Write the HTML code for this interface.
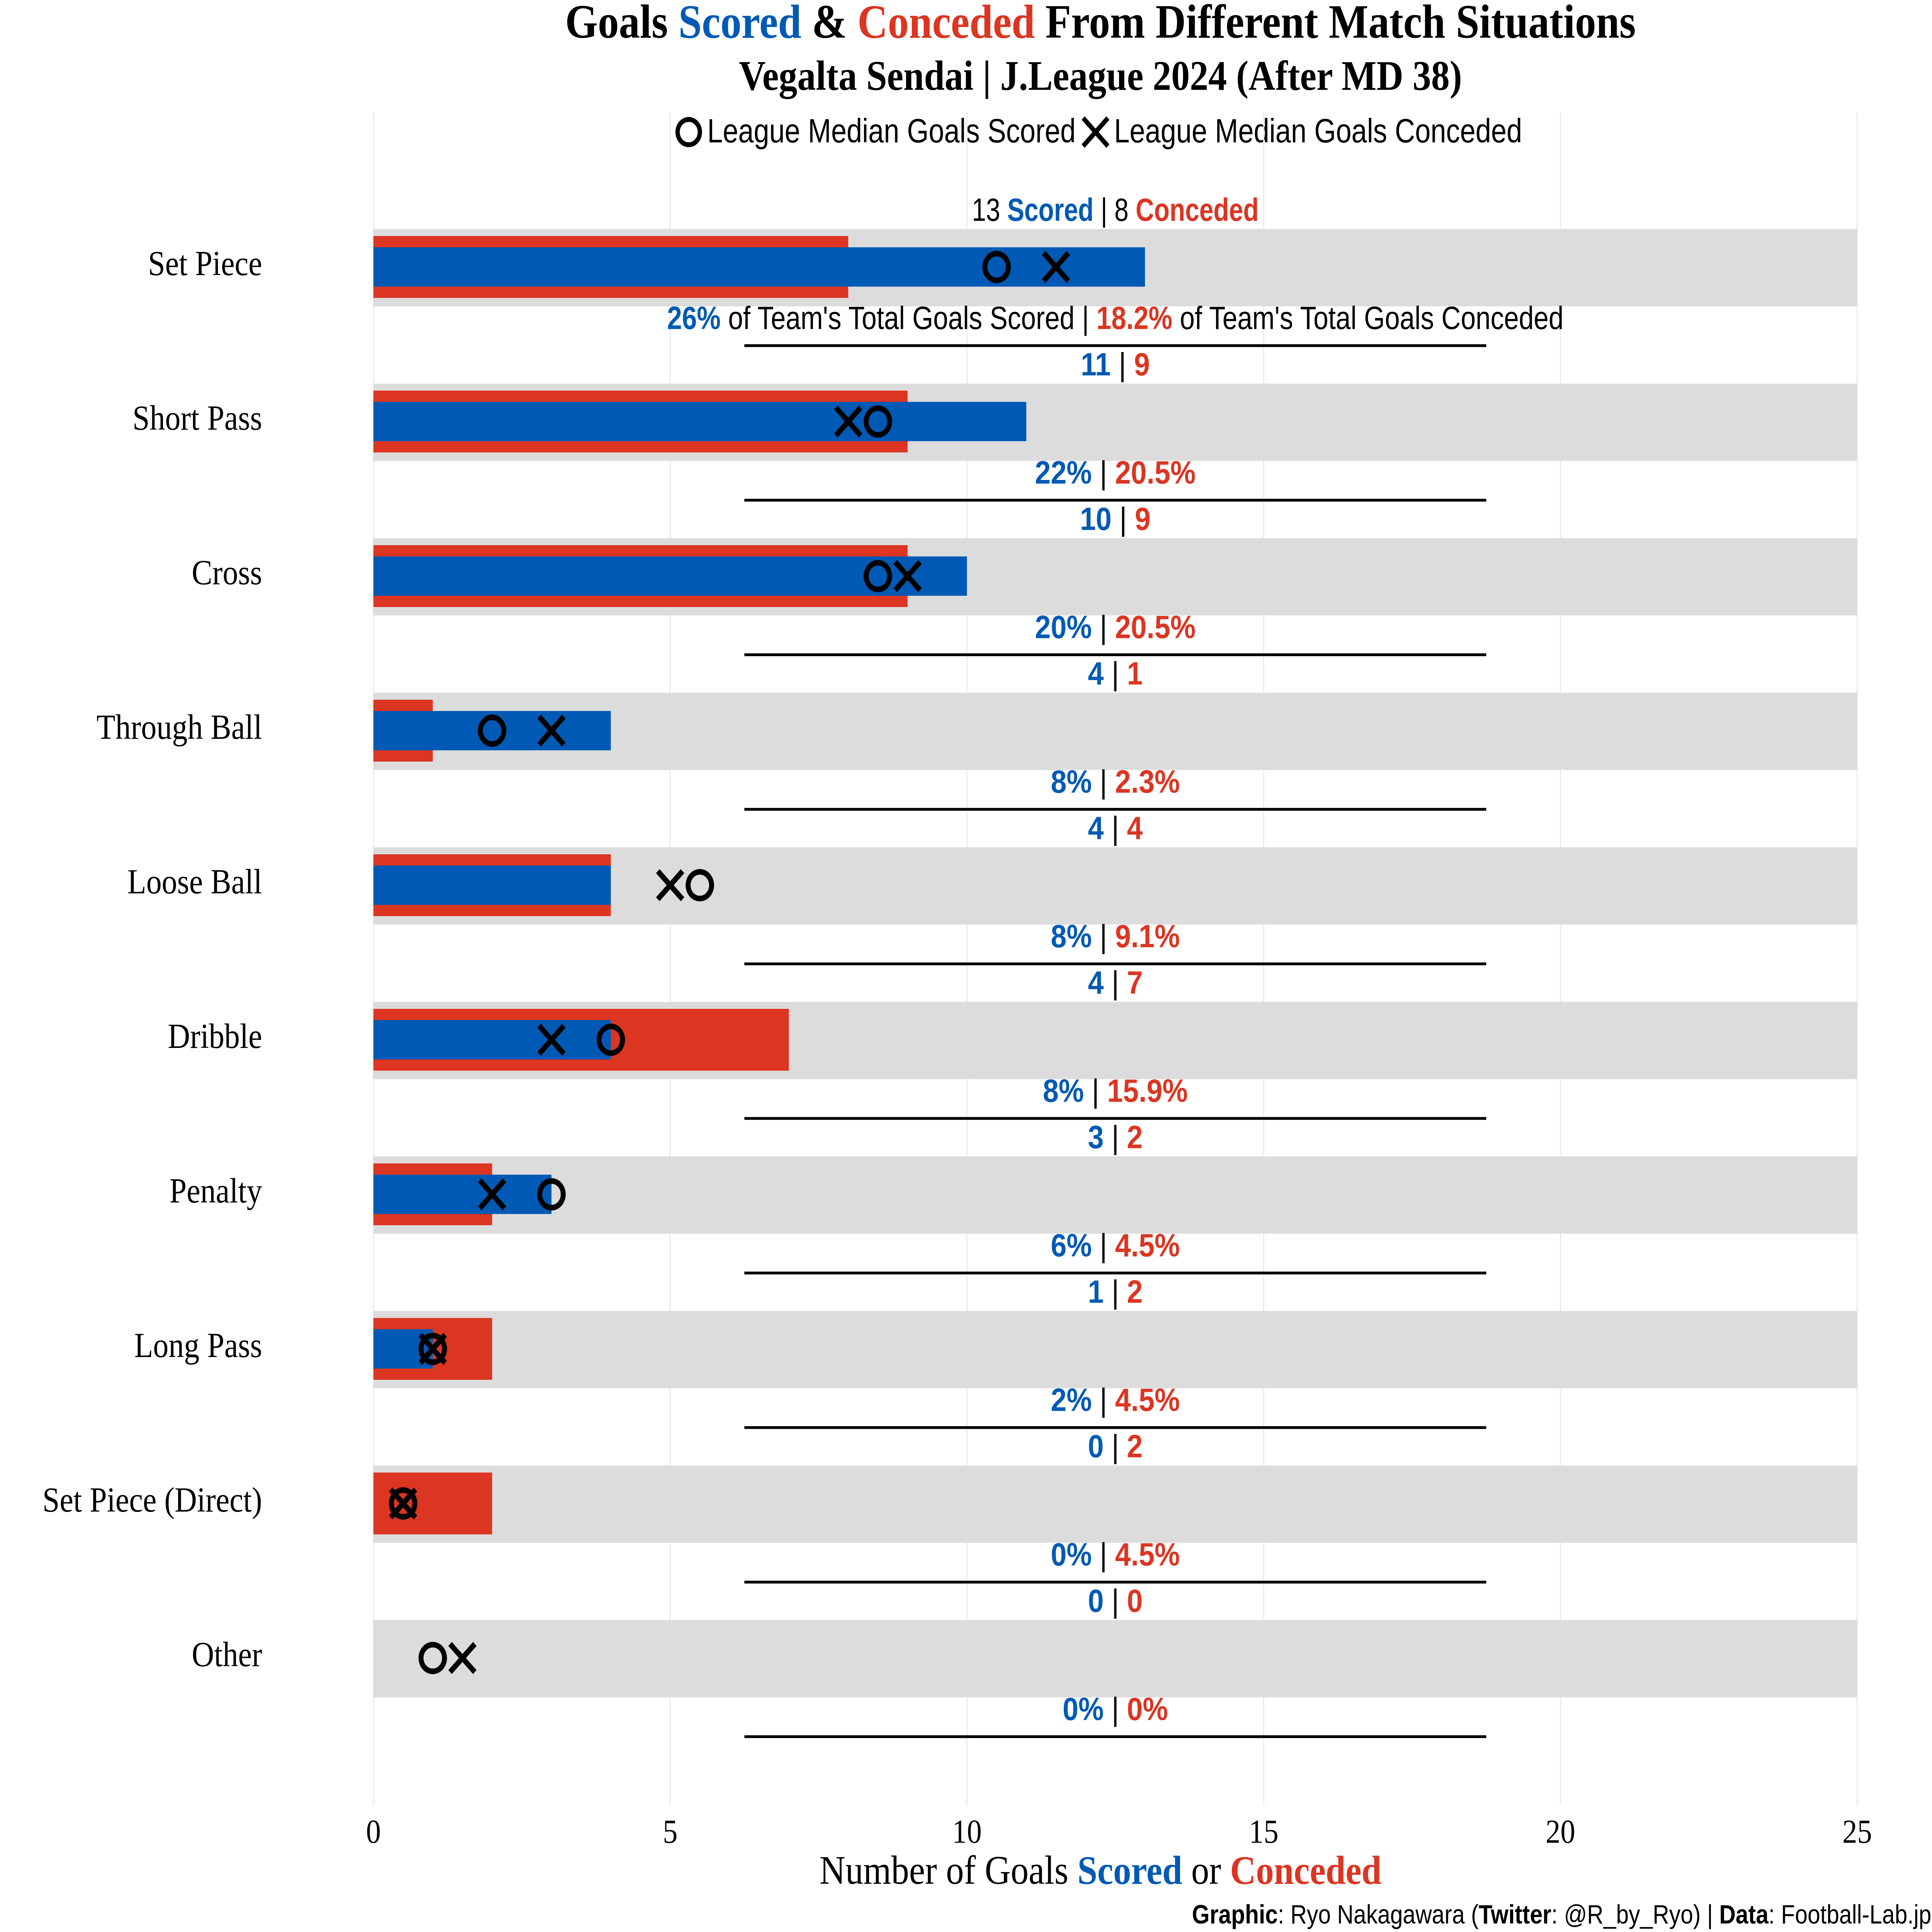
<!DOCTYPE html>
<html><head><meta charset="utf-8"><style>
html,body{margin:0;padding:0;background:#fff;overflow:hidden;width:100vw;height:100vh;}
svg{display:block;width:100vw;height:100vh;}
.serif{font-family:"Liberation Serif",serif;}
.cond{font-family:"Liberation Sans Narrow","Liberation Sans",sans-serif;}
</style></head><body>
<svg id="chart" viewBox="0 0 1562.5 1375" preserveAspectRatio="none" xmlns="http://www.w3.org/2000/svg">
<rect width="1562.5" height="1375" fill="#fff"/>
<text x="890" y="19" text-anchor="middle" dominant-baseline="middle" class="serif" font-weight="bold" font-size="34">Goals <tspan fill="#005ab5">Scored</tspan> &amp; <tspan fill="#dc3522">Conceded</tspan> From Different Match Situations</text>
<text x="890" y="57" text-anchor="middle" dominant-baseline="middle" class="serif" font-weight="bold" font-size="30">Vegalta Sendai | J.League 2024 (After MD 38)</text>
<g>
<circle cx="557" cy="94" r="9" fill="none" stroke="#000" stroke-width="3.5"/>
<text x="572" y="95" dominant-baseline="middle" class="cond" font-size="24" textLength="298" lengthAdjust="spacingAndGlyphs">League Median Goals Scored</text>
<path d="M876 84 L896 104 M896 84 L876 104" stroke="#000" stroke-width="3.5"/>
<text x="901" y="95" dominant-baseline="middle" class="cond" font-size="24" textLength="330" lengthAdjust="spacingAndGlyphs">League Median Goals Conceded</text>
</g>
<g id="grid"></g><g id="rows"></g><g id="axis"></g>
<text x="890" y="1334" text-anchor="middle" dominant-baseline="middle" class="serif" font-size="29">Number of Goals <tspan fill="#005ab5" font-weight="bold">Scored</tspan> or <tspan fill="#dc3522" font-weight="bold">Conceded</tspan></text>
<text x="1562" y="1364" text-anchor="end" dominant-baseline="middle" class="cond" font-size="19" textLength="598" lengthAdjust="spacingAndGlyphs"><tspan font-weight="bold">Graphic</tspan>: Ryo Nakagawara (<tspan font-weight="bold">Twitter</tspan>: @R_by_Ryo) | <tspan font-weight="bold">Data</tspan>: Football-Lab.jp</text>
</svg>
<script>
const categories=["Set Piece","Short Pass","Cross","Through Ball","Loose Ball","Dribble","Penalty","Long Pass","Set Piece (Direct)","Other"];
const scored=[13,11,10,4,4,4,3,1,0,0];
const conceded=[8,9,9,1,4,7,2,2,2,0];
const medianScored=[10.5,8.5,8.5,2,5.5,4,3,1,0.5,1];
const medianConceded=[11.5,8,9,3,5,3,2,1,0.5,1.5];
const pctScored=["26%","22%","20%","8%","8%","8%","6%","2%","0%","0%"];
const pctConceded=["18.2%","20.5%","20.5%","2.3%","9.1%","15.9%","4.5%","4.5%","4.5%","0%"];
const ticks=[0,5,10,15,20,25];
const NS="http://www.w3.org/2000/svg";
const BLUE="#005ab5",RED="#dc3522";
const x=v=>302+v*48;
const y=i=>190+i*110;
function mk(tag,attrs,parent){const e=document.createElementNS(NS,tag);for(const k in attrs)e.setAttribute(k,attrs[k]);parent.appendChild(e);return e;}
const grid=document.getElementById('grid'),rows=document.getElementById('rows'),axis=document.getElementById('axis');
ticks.forEach(t=>{
 const l=mk('line',{x1:x(t),x2:x(t),y1:80,y2:1285,stroke:'#ebebeb','stroke-width':1},grid);
 
 
 const tx=mk('text',{x:x(t),y:1306,'text-anchor':'middle','dominant-baseline':'middle','font-size':24,class:'serif'},axis);
 tx.textContent=t;
 
 
});
function span(parent,txt,fill,bold){const s=mk('tspan',{},parent);if(fill)s.setAttribute('fill',fill);if(bold)s.setAttribute('font-weight','bold');s.textContent=txt;return s;}
categories.forEach((c,i)=>{
 const cy=y(i);
 const g=mk('g',{},rows);
 
 
 const bg=mk('rect',{x:x(0),y:cy-27,width:x(25)-x(0),height:55,fill:'#dcdcdc'},g);
 
 
 const rb=mk('rect',{x:x(0),y:cy-22,width:x(conceded[i])-x(0),height:44,fill:RED},g);
 
 
 const bb=mk('rect',{x:x(0),y:cy-14,width:x(scored[i])-x(0),height:28,fill:BLUE},g);
 
 
 const ci=mk('circle',{cx:x(medianScored[i]),cy:cy,r:9.5,fill:'none',stroke:'#000','stroke-width':4},g);
 
 
 const mx=x(medianConceded[i]);
 const cr=mk('path',{d:`M${mx-10} ${cy-10} L${mx+10} ${cy+10} M${mx+10} ${cy-10} L${mx-10} ${cy+10}`,stroke:'#000','stroke-width':4},g);
 
 
 const lb=mk('text',{x:212,y:cy,'text-anchor':'end','dominant-baseline':'middle','font-size':25,class:'serif'},g);
 lb.textContent=c;
 
 
 const top=mk('text',{x:902,y:cy-39,'text-anchor':'middle','dominant-baseline':'middle','font-size':23,class:'cond'},g);
 
 
 const bot=mk('text',{x:902,y:cy+38,'text-anchor':'middle','dominant-baseline':'middle','font-size':23,class:'cond'},g);
 
 
 if(i===0){
  top.setAttribute('textLength','232');top.setAttribute('lengthAdjust','spacingAndGlyphs');
  bot.setAttribute('textLength','725');bot.setAttribute('lengthAdjust','spacingAndGlyphs');
  span(top,scored[i]+' ');span(top,'Scored',BLUE,true);span(top,' | '+conceded[i]+' ');span(top,'Conceded',RED,true);
  span(bot,pctScored[i],BLUE,true);span(bot," of Team's Total Goals Scored | ");span(bot,pctConceded[i],RED,true);span(bot," of Team's Total Goals Conceded");
 }else{
  span(top,String(scored[i]),BLUE,true);span(top,' | ');span(top,String(conceded[i]),RED,true);
  span(bot,pctScored[i],BLUE,true);span(bot,' | ');span(bot,pctConceded[i],RED,true);
 }
 const sep=mk('line',{x1:602,x2:1202,y1:cy+56,y2:cy+56,stroke:'#000','stroke-width':2},g);
 
 
});
</script>
</body></html>
